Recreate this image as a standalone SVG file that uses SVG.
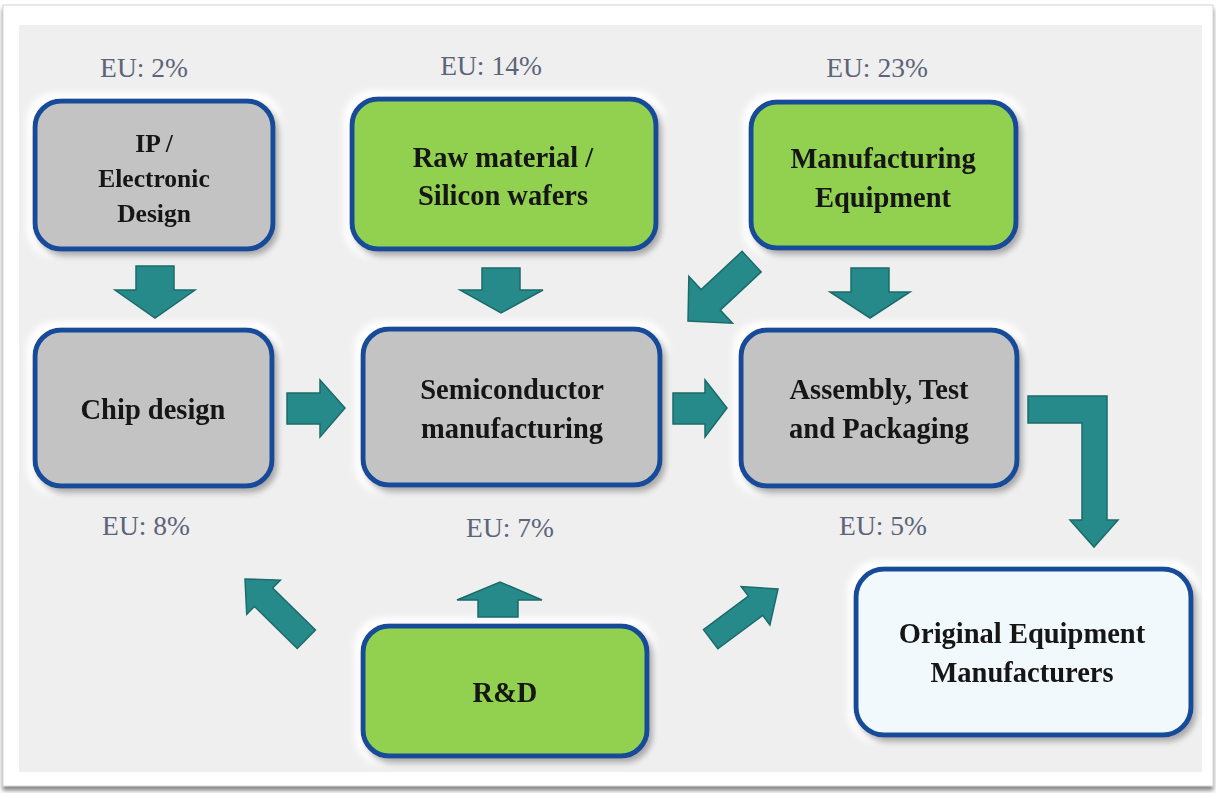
<svg xmlns="http://www.w3.org/2000/svg" width="1216" height="793" viewBox="0 0 1216 793">
  <defs>
    <style>
      .frame { fill: #ffffff; stroke: #d4d4d4; stroke-width: 1; }
      .panel { fill: #efefef; }
      .box { stroke: #164c9a; stroke-width: 5; }
      .grey { fill: #c3c3c3; }
      .green { fill: #92d050; }
      .pale { fill: #f2f9fc; }
      .lbl { font-family: "Liberation Serif", "Times New Roman", serif; font-weight: bold; font-size: 28.5px; fill: #141414; text-anchor: middle; }
      .small { font-size: 25.5px; }
      .eu { font-family: "Liberation Serif", "Times New Roman", serif; font-size: 27.5px; fill: #5b6478; text-anchor: middle; }
      .arrow { fill: #278a8a; stroke: #1b6b6b; stroke-width: 1.5; stroke-linejoin: miter; }
    </style>
    <!-- white halo plus soft grey drop shadow under each box -->
    <filter id="boxfx" x="-10%" y="-15%" width="125%" height="135%">
      <feMorphology in="SourceAlpha" operator="dilate" radius="6" result="grow"/>
      <feGaussianBlur in="grow" stdDeviation="3" result="growBlur"/>
      <feFlood flood-color="#ffffff" result="white"/>
      <feComposite in="white" in2="growBlur" operator="in" result="halo"/>
      <feGaussianBlur in="SourceAlpha" stdDeviation="3" result="sb"/>
      <feOffset in="sb" dx="4" dy="5" result="so"/>
      <feFlood flood-color="#4a4a4a" flood-opacity="0.65" result="sc"/>
      <feComposite in="sc" in2="so" operator="in" result="shadow"/>
      <feMerge>
        <feMergeNode in="halo"/>
        <feMergeNode in="shadow"/>
        <feMergeNode in="SourceGraphic"/>
      </feMerge>
    </filter>
    <filter id="framefx" x="-2%" y="-2%" width="104%" height="106%">
      <feGaussianBlur in="SourceAlpha" stdDeviation="2" result="b"/>
      <feOffset in="b" dx="0" dy="4" result="o"/>
      <feFlood flood-color="#6f6f6f" flood-opacity="0.85" result="c"/>
      <feComposite in="c" in2="o" operator="in" result="s"/>
      <feMerge>
        <feMergeNode in="s"/>
        <feMergeNode in="SourceGraphic"/>
      </feMerge>
    </filter>
  </defs>

  <!-- frame and background panel -->
  <rect x="0" y="0" width="1216" height="793" fill="#ffffff"/>
  <rect class="frame" x="3" y="5" width="1210" height="781" filter="url(#framefx)"/>
  <rect class="panel" x="19" y="25" width="1183" height="747"/>

  <!-- share labels -->
  <g id="labels">
    <text class="eu" x="144" y="77">EU: 2%</text>
    <text class="eu" x="491" y="75">EU: 14%</text>
    <text class="eu" x="877" y="77">EU: 23%</text>
    <text class="eu" x="146" y="535">EU: 8%</text>
    <text class="eu" x="510" y="537">EU: 7%</text>
    <text class="eu" x="883" y="535">EU: 5%</text>
  </g>

  <!-- nodes -->
  <g id="ip-design" filter="url(#boxfx)">
    <rect class="box grey" x="35" y="101" width="238" height="148" rx="26"/>
    <text class="lbl small" x="154" y="152">IP /</text>
    <text class="lbl small" x="154" y="187">Electronic</text>
    <text class="lbl small" x="154" y="222">Design</text>
  </g>
  <g id="raw-material" filter="url(#boxfx)">
    <rect class="box green" x="352" y="99" width="304" height="150" rx="26"/>
    <text class="lbl" x="503" y="167">Raw material /</text>
    <text class="lbl" x="503" y="205">Silicon wafers</text>
  </g>
  <g id="manufacturing-equipment" filter="url(#boxfx)">
    <rect class="box green" x="751" y="102" width="265" height="146" rx="26"/>
    <text class="lbl" x="883" y="168">Manufacturing</text>
    <text class="lbl" x="883" y="207">Equipment</text>
  </g>
  <g id="chip-design" filter="url(#boxfx)">
    <rect class="box grey" x="35" y="330" width="237" height="156" rx="26"/>
    <text class="lbl" x="153" y="419">Chip design</text>
  </g>
  <g id="semiconductor-manufacturing" filter="url(#boxfx)">
    <rect class="box grey" x="363" y="329" width="297" height="156" rx="26"/>
    <text class="lbl" x="512" y="399">Semiconductor</text>
    <text class="lbl" x="512" y="438">manufacturing</text>
  </g>
  <g id="assembly-test-packaging" filter="url(#boxfx)">
    <rect class="box grey" x="741" y="330" width="276" height="156" rx="26"/>
    <text class="lbl" x="879" y="399">Assembly, Test</text>
    <text class="lbl" x="879" y="438">and Packaging</text>
  </g>
  <g id="oem" filter="url(#boxfx)">
    <rect class="box pale" x="856" y="569" width="335" height="166" rx="28"/>
    <text class="lbl" x="1022" y="643">Original Equipment</text>
    <text class="lbl" x="1022" y="682">Manufacturers</text>
  </g>
  <g id="r-and-d" filter="url(#boxfx)">
    <rect class="box green" x="363" y="626" width="284" height="130" rx="26"/>
    <text class="lbl" x="505" y="702">R&amp;D</text>
  </g>

  <!-- connectors: block arrows -->
  <g id="connectors">
    <!-- down arrows under the top row -->
    <polygon class="arrow" points="136,266 174,266 174,290 195,290 155,318 115,290 136,290"/>
    <polygon class="arrow" points="482,268 520,268 520,290 543,290 501,313 460,290 482,290"/>
    <polygon class="arrow" points="851,268 889,268 889,292 910,292 870,318 830,292 851,292"/>
    <!-- equipment into semiconductor manufacturing -->
    <polygon class="arrow" transform="translate(688,321) rotate(137)" points="-87,-14 -31,-14 -31,-32 0,0 -31,32 -31,14 -87,14"/>
    <!-- left-to-right flow -->
    <polygon class="arrow" points="287,393 320,393 320,380 345,408 320,437 320,424 287,424"/>
    <polygon class="arrow" points="673,393 705,393 705,380 727,408 705,437 705,424 673,424"/>
    <!-- assembly to OEM elbow -->
    <polygon class="arrow" points="1028,396 1107,396 1107,520 1118,520 1094,547 1070,520 1082,520 1082,423 1028,423"/>
    <!-- R&D outputs -->
    <polygon class="arrow" points="478,617 518,617 518,600 542,600 500,582 457,600 478,600"/>
    <polygon class="arrow" transform="translate(245,579) rotate(224.5)" points="-86,-13 -26,-13 -26,-24 0,0 -26,24 -26,13 -86,13"/>
    <polygon class="arrow" transform="translate(778,589) rotate(-36.7)" points="-84,-12 -28,-12 -28,-24 0,0 -28,24 -28,12 -84,12"/>
  </g>
</svg>
